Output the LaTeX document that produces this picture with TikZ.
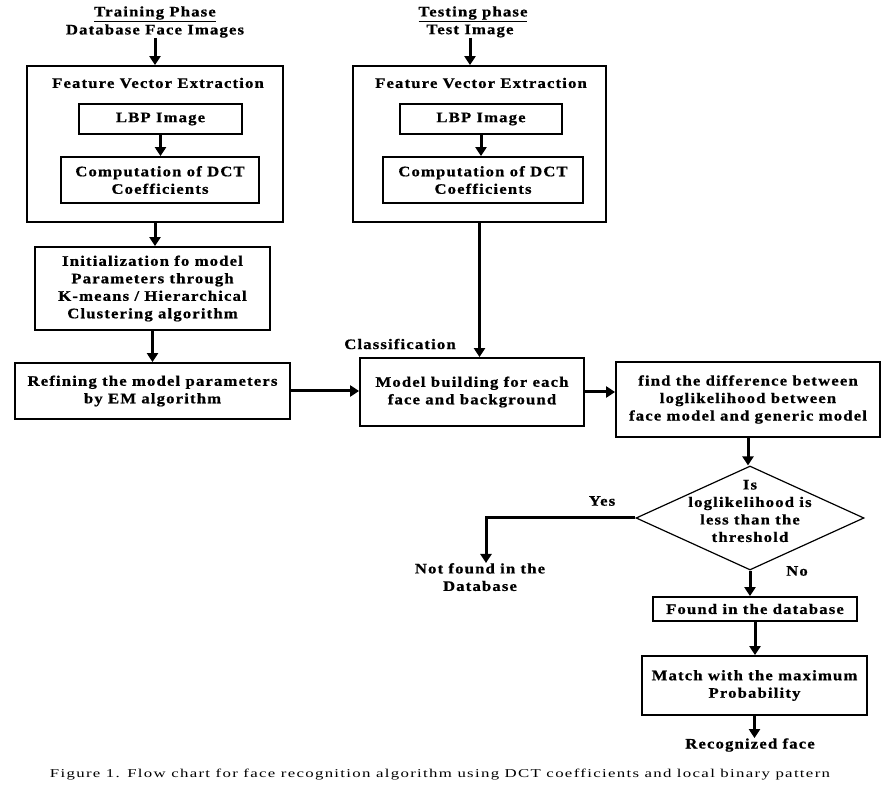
\documentclass[tikz,border=0pt]{standalone}
\usepackage{fontspec}
\setmainfont{Liberation Serif}
\newfontfamily\dfont{Liberation Serif}[FakeStretch=1.15,LetterSpace=8,BoldFeatures={FakeBold=0.8}]
\newfontfamily\cfont{Liberation Serif}[FakeStretch=1.4,LetterSpace=11]
\usetikzlibrary{arrows.meta,shapes.geometric}
\begin{document}
\begin{tikzpicture}[x=1pt,y=-1pt,
  txt/.style={font=\dfont\bfseries\fontsize{14.5}{17.5}\selectfont, align=center, inner sep=0},
  box/.style={draw, line width=1.8pt, inner sep=0, txt},
  arr/.style={line width=3pt, -{Triangle[width=11pt,length=9pt]}},
  ln/.style={line width=3pt}]
\useasboundingbox (0,0) rectangle (895,791);
% headers
\node[txt] (trp) at (155,14) {\underline{Training Phase}};
\node[txt] (dbi) at (155,31) {Database Face Images};
\node[txt] (tsp) at (473,14) {\underline{Testing phase}};
\node[txt] (tsi) at (470,31) {Test Image};
% feature boxes
\node[box, minimum width=256, minimum height=156] (fveL) at (155,144) {};
\node[txt] (fveLt) at (158,83) {Feature Vector Extraction};
\node[box, minimum width=163, minimum height=30] (lbpL) at (160.5,119) {LBP Image};
\node[box, minimum width=198, minimum height=46] (cmpL) at (160,180) {Computation of DCT\\Coefficients};
\node[box, minimum width=253, minimum height=156] (fveR) at (479.5,144) {};
\node[txt] (fveRt) at (481,83) {Feature Vector Extraction};
\node[box, minimum width=162, minimum height=30] (lbpR) at (481,119) {LBP Image};
\node[box, minimum width=200, minimum height=46] (cmpR) at (483,180) {Computation of DCT\\Coefficients};
% training chain
\node[box, minimum width=235, minimum height=83] (ini) at (152.5,288.5) {Initialization fo model\\Parameters through\\K-means / Hierarchical\\Clustering algorithm};
\node[box, minimum width=275, minimum height=56] (ref) at (152.5,391) {Refining the model parameters\\by EM algorithm};
% classification
\node[txt] (cls) at (400,344) {Classification};
\node[box, minimum width=224, minimum height=68] (mb) at (472,392) {Model building for each\\face and background};
\node[box, minimum width=264, minimum height=75] (fd) at (748,399.5) {find the difference between\\loglikelihood between\\face model and generic model};
\node[draw, diamond, line width=1.2pt, minimum width=228, minimum height=104, inner sep=0] (dia) at (750,518) {};
\node[txt] (diat) at (750,511) {Is\\loglikelihood is\\less than the\\threshold};
\node[txt] (yes) at (602,501) {Yes};
\node[txt] (no) at (797,571) {No};
\node[txt, anchor=north] (nf) at (480,563) {Not found in the\\Database};
\node[box, minimum width=204, minimum height=24] (fnd) at (755,609) {Found in the database};
\node[box, minimum width=225, minimum height=59] (mt) at (754.5,685.5) {Match with the maximum\\Probability};
\node[txt] (rec) at (750,745) {Recognized face};
\node[font=\cfont\fontsize{12}{14}\selectfont, inner sep=0] (cap) at (440,775) {Figure 1. Flow chart for face recognition algorithm using DCT coefficients and local binary pattern};
% connectors
\draw[arr] (dbi.south) -- (dbi.south |- fveL.north);
\draw[arr] (tsi.south) -- (tsi.south |- fveR.north);
\draw[arr] (lbpL.south) -- (lbpL.south |- cmpL.north);
\draw[arr] (lbpR.south) -- (lbpR.south |- cmpR.north);
\draw[arr] (fveL.south) -- (fveL.south |- ini.north);
\draw[arr] (ini.south) -- (ini.south |- ref.north);
\draw[arr] (ref.east) -- (ref.east -| mb.west);
\draw[arr] (fveR.south) -- (fveR.south |- mb.north);
\draw[arr] (mb.east) -- (mb.east -| fd.west);
\draw[arr] (fd.south) -- (fd.south |- dia.north);
\draw[arr] (dia.west) -| ([xshift=6]nf.north);
\draw[arr] (dia.south) -- (dia.south |- fnd.north);
\draw[arr] (fnd.south) -- (fnd.south |- mt.north);
\draw[arr] (mt.south) -- (mt.south |- rec.north);
\end{tikzpicture}
\end{document}
